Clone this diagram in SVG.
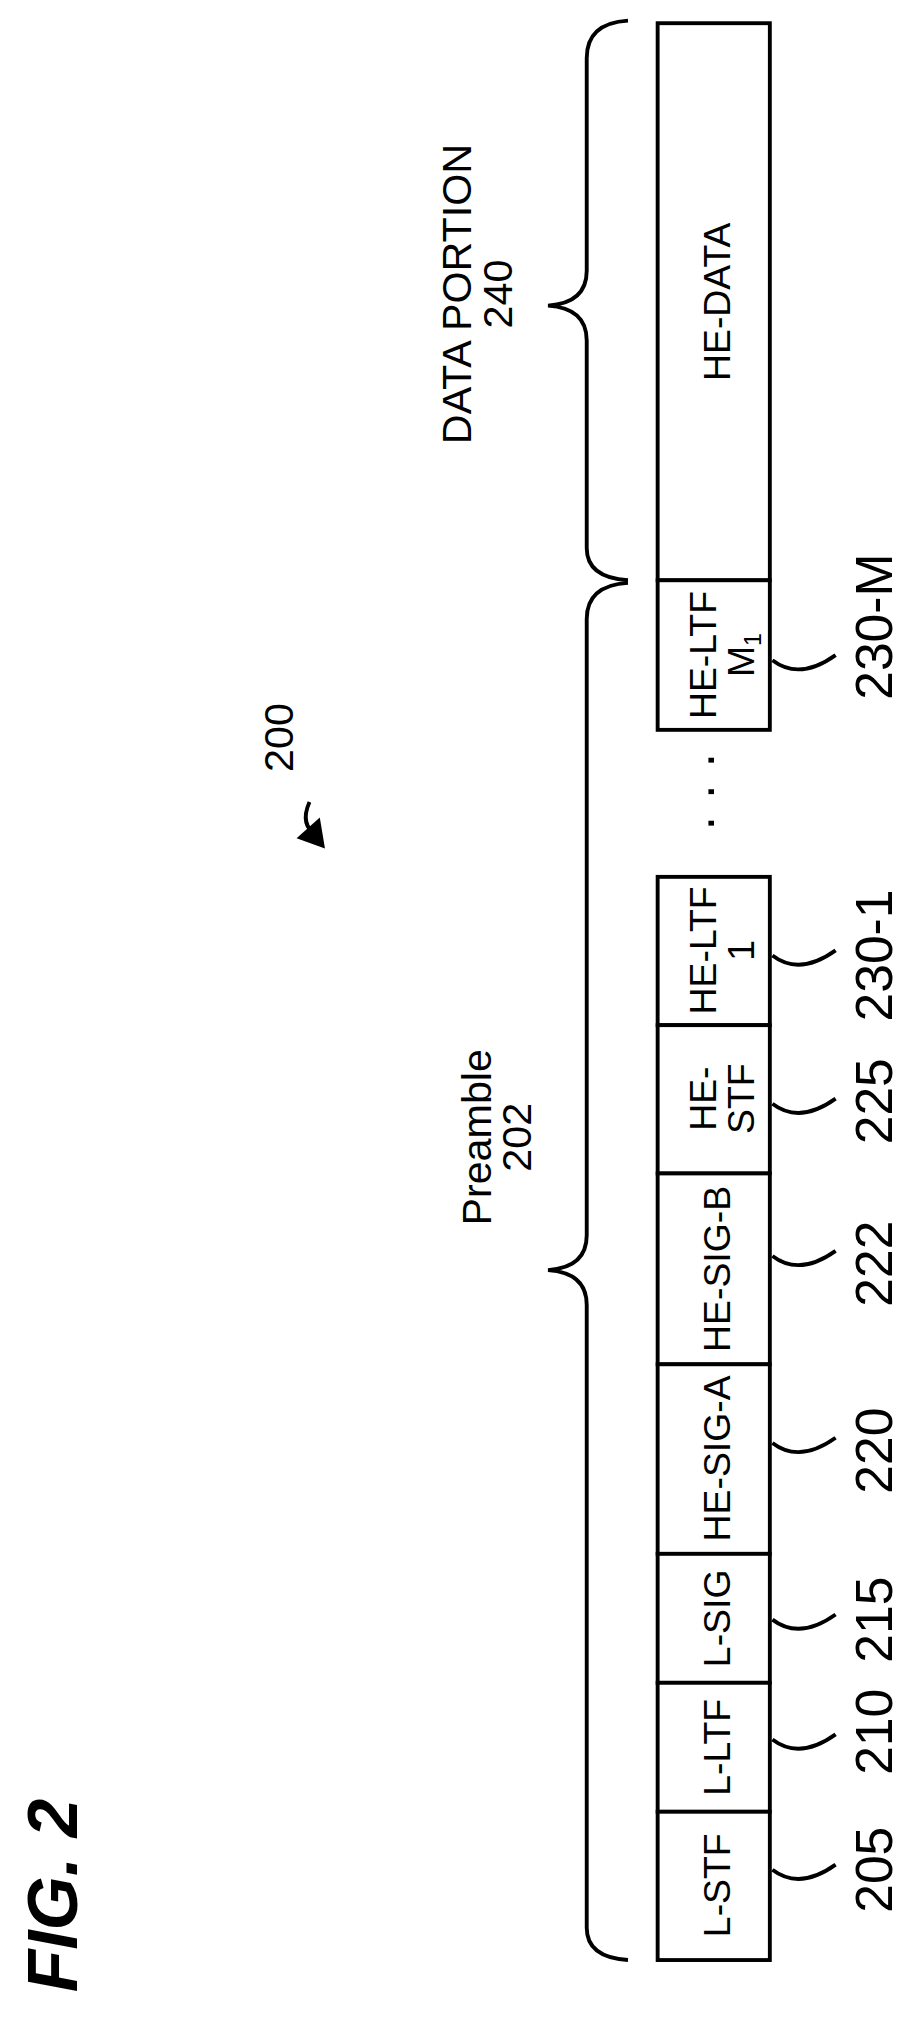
<svg xmlns="http://www.w3.org/2000/svg" width="922" height="2041" viewBox="0 0 922 2041">
<style>
.b{fill:#fff;stroke:#000;stroke-width:3}
.l{fill:none;stroke:#000;stroke-width:3}
text{font-family:"Liberation Sans",Arial,sans-serif;fill:#000;text-anchor:middle}
.t{font-size:29px}
.n{font-size:40px}
.c{font-size:32px}
</style>
<rect width="922" height="2041" fill="#fff"/>
<g transform="scale(1.2895)">
<text transform="translate(60,1470) rotate(-90)" style="font-size:54px;font-weight:bold;font-style:italic">FIG. 2</text>
<g id="ref200">
<text class="c" transform="translate(227,572) rotate(-90)">200</text>
<path class="l" d="M240,622 Q232,640 246,648"/>
<path d="M252,658 L230,650 L248,634 Z" fill="#000"/>
</g>
<g id="brace-data"><path class="l" d="M487,16 Q455,18 455,45 L455,210 Q455,235 425,237 Q455,239 455,264 L455,425 Q455,448 487,450"/>
<text class="c" transform="translate(365,228) rotate(-90)"><tspan x="0" y="0">DATA PORTION</tspan><tspan x="0" y="32">240</tspan></text></g>
<g id="brace-pre"><path class="l" d="M487,452 Q455,454 455,480 L455,958 Q455,983 425,985 Q455,987 455,1012 L455,1495 Q455,1518 487,1520"/>
<text class="c" transform="translate(381,882) rotate(-90)"><tspan x="0" y="0">Preamble</tspan><tspan x="0" y="31">202</tspan></text></g>
<g id="hedata"><rect class="b" x="510" y="18" width="87" height="432"/><text class="t" transform="translate(566,234) rotate(-90)">HE-DATA</text></g>
<g id="heltfm"><rect class="b" x="510" y="450" width="87" height="116"/><text class="t" transform="translate(555,508) rotate(-90)"><tspan x="0" y="0">HE-LTF</tspan><tspan x="0" y="30">M<tspan style="font-size:18px" dy="5">1</tspan></tspan></text></g>
<g id="dots"><text class="n" transform="translate(562,614) rotate(-90)">· · ·</text></g>
<g id="heltf1"><rect class="b" x="510" y="680" width="87" height="115"/><text class="t" transform="translate(555,737) rotate(-90)"><tspan x="0" y="0">HE-LTF</tspan><tspan x="0" y="30">1</tspan></text></g>
<g id="hestf"><rect class="b" x="510" y="795" width="87" height="115"/><text class="t" transform="translate(555,852) rotate(-90)"><tspan x="0" y="0">HE-</tspan><tspan x="0" y="30">STF</tspan></text></g>
<g id="hesigb"><rect class="b" x="510" y="910" width="87" height="148"/><text class="t" transform="translate(566,984) rotate(-90)">HE-SIG-B</text></g>
<g id="hesiga"><rect class="b" x="510" y="1058" width="87" height="147"/><text class="t" transform="translate(566,1131) rotate(-90)">HE-SIG-A</text></g>
<g id="lsig"><rect class="b" x="510" y="1205" width="87" height="100"/><text class="t" transform="translate(566,1255) rotate(-90)">L-SIG</text></g>
<g id="lltf"><rect class="b" x="510" y="1305" width="87" height="100"/><text class="t" transform="translate(566,1355) rotate(-90)">L-LTF</text></g>
<g id="lstf"><rect class="b" x="510" y="1405" width="87" height="115"/><text class="t" transform="translate(566,1462) rotate(-90)">L-STF</text></g>
<g id="connectors">
<path class="l" d="M599,1450 Q620,1466 648,1446"/>
<path class="l" d="M599,1349 Q620,1365 648,1345"/>
<path class="l" d="M599,1256 Q620,1272 648,1252"/>
<path class="l" d="M599,1119 Q620,1135 648,1115"/>
<path class="l" d="M599,974 Q620,990 648,970"/>
<path class="l" d="M599,856 Q620,872 648,852"/>
<path class="l" d="M599,741 Q620,757 648,737"/>
<path class="l" d="M599,512 Q620,528 648,508"/>
</g>
<g id="labels">
<text class="n" transform="translate(692,1450) rotate(-90)">205</text>
<text class="n" transform="translate(692,1343) rotate(-90)">210</text>
<text class="n" transform="translate(692,1256) rotate(-90)">215</text>
<text class="n" transform="translate(692,1125) rotate(-90)">220</text>
<text class="n" transform="translate(692,980) rotate(-90)">222</text>
<text class="n" transform="translate(692,854) rotate(-90)">225</text>
<text class="n" transform="translate(692,741) rotate(-90)">230-1</text>
<text class="n" transform="translate(692,486) rotate(-90)">230-M</text>
</g>
</g>
</svg>
